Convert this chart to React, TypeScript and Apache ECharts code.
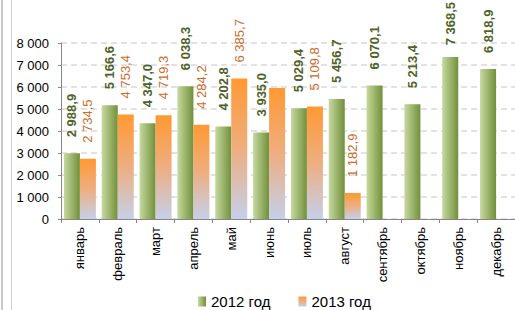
import React, { useEffect, useRef } from "react";
import * as echarts from "echarts";

const months = ["январь", "февраль", "март", "апрель", "май", "июнь", "июль", "август", "сентябрь", "октябрь", "ноябрь", "декабрь"];
const values2012 = [2988.9, 5166.6, 4347.0, 6038.3, 4202.8, 3935.0, 5029.4, 5456.7, 6070.1, 5213.4, 7368.5, 6818.9];
const values2013: (number | null)[] = [2734.5, 4753.4, 4719.3, 4284.2, 6385.7, 5955, 5109.8, 1182.9, null, null, null, null];
const unlabelled2013 = ["июнь"];
const seriesNames = ["2012 год", "2013 год"];
const yTicks = { min: 0, max: 8000, interval: 1000 };

function groupThousands(s: string) {
  return s.replace(/\B(?=(\d{3})+(?!\d))/g, " ");
}
function fmtValue(v: number) {
  const [i, d] = v.toFixed(1).split(".");
  return groupThousands(i) + "," + d;
}

export default function App() {
  const ref = useRef<HTMLDivElement>(null);
  useEffect(() => {
    if (!ref.current) return;
    const chart = echarts.init(ref.current, null, { renderer: "svg" });
    const green = new echarts.graphic.LinearGradient(0, 0, 1, 0, [
      { offset: 0, color: "#c6d99f" },
      { offset: 1, color: "#71903a" },
    ]);
    const orange = new echarts.graphic.LinearGradient(0, 0, 0, 1, [
      { offset: 0, color: "#ff9933" },
      { offset: 0.5, color: "#eeae80" },
      { offset: 1, color: "#c5d0ea" },
    ]);
    const font = "Liberation Sans, Arial, sans-serif";
    const keepInside = (params: any) => {
      const r = params.labelRect;
      if (r && r.y < 2) return { y: 2 + r.height };
      return {};
    };
    chart.setOption({
      animation: false,
      textStyle: { fontFamily: font },
      graphic: [
        { type: "line", shape: { x1: 2, y1: 0, x2: 2, y2: 310 }, style: { stroke: "#c8c8c8", lineWidth: 2 } },
        { type: "line", shape: { x1: 11.5, y1: 0, x2: 11.5, y2: 310 }, style: { stroke: "#d0d0d0", lineWidth: 1 } },
      ],
      legend: {
        data: seriesNames,
        left: 193,
        top: 289,
        itemWidth: 8,
        itemHeight: 10,
        itemGap: 28,
        icon: "rect",
        textStyle: { fontSize: 15, color: "#000", fontFamily: font },
      },
      grid: { left: 61, top: 43, right: -8, bottom: 91, containLabel: false },
      xAxis: {
        type: "category",
        data: months,
        axisLine: { lineStyle: { color: "#868686", width: 1 } },
        axisTick: { show: true, length: 4, lineStyle: { color: "#868686" } },
        axisLabel: { rotate: 90, fontSize: 13, color: "#000", margin: 8, interval: 0, fontFamily: font },
      },
      yAxis: {
        type: "value",
        min: yTicks.min,
        max: yTicks.max,
        interval: yTicks.interval,
        axisLine: { show: true, lineStyle: { color: "#868686", width: 1 } },
        axisTick: { show: true, length: 3, lineStyle: { color: "#868686" } },
        axisLabel: { fontSize: 13, color: "#000", margin: 12, fontFamily: font, formatter: (v: number) => groupThousands(String(v)) },
        splitLine: { lineStyle: { color: "#d9d9d9", width: 1.5, type: [6, 4] } },
      },
      series: [
        {
          name: seriesNames[0],
          type: "bar",
          barWidth: 16,
          barGap: "0%",
          data: values2012,
          itemStyle: { color: green },
          labelLayout: keepInside,
          label: {
            show: true,
            position: "top",
            rotate: 90,
            align: "left",
            verticalAlign: "middle",
            distance: 16,
            fontSize: 13,
            fontWeight: "bold",
            color: "#4f6228",
            fontFamily: font,
            formatter: (p: any) => fmtValue(p.value),
          },
        },
        {
          name: seriesNames[1],
          type: "bar",
          barWidth: 16,
          barGap: "0%",
          data: values2013.map((v, i) =>
            unlabelled2013.includes(months[i]) ? { value: v, label: { show: false } } : v
          ),
          itemStyle: { color: orange },
          labelLayout: keepInside,
          label: {
            show: true,
            position: "top",
            rotate: 90,
            align: "left",
            verticalAlign: "middle",
            distance: 16,
            fontSize: 13,
            color: "#cc6a28",
            fontFamily: font,
            formatter: (p: any) => (p.value == null ? "" : fmtValue(p.value)),
          },
        },
      ],
    });
    return () => chart.dispose();
  }, []);
  return <div ref={ref} style={{ position: "absolute", left: 0, top: 0, width: 515, height: 310, background: "#fff" }} />;
}
